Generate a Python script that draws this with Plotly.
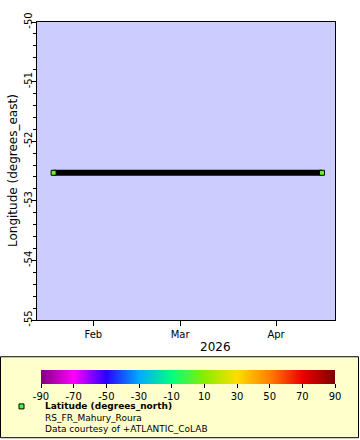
import plotly.graph_objects as go

# ---- data ----
times = ["2026-01-19 04:00", "2026-04-15 20:00"]
longitude = [-52.53, -52.53]
latitude = [4.85, 4.85]
x_range = ["2026-01-13 19:00", "2026-04-20 01:00"]
y_range = [-55, -50]
y_ticks = [-55, -54, -53, -52, -51, -50]
cbar_ticks = [-90, -70, -50, -30, -10, 10, 30, 50, 70, 90]
station = "RS_FR_Mahury_Roura"
courtesy = "Data courtesy of +ATLANTIC_CoLAB"
var_label = "Latitude (degrees_north)"

colorscale = [
    [0.0, "#7f007f"],
    [0.111, "#ff00ff"],
    [0.222, "#2a00ff"],
    [0.333, "#00aaff"],
    [0.444, "#00ff80"],
    [0.556, "#88ee00"],
    [0.667, "#ffdd00"],
    [0.778, "#ff7f00"],
    [0.889, "#ee0000"],
    [1.0, "#7f0000"],
]

W, H = 360, 440
L, R, T, B = 37, 25, 20, 120
pw, ph = W - L - R, H - T - B

def px(xp):
    return (xp - L) / pw

def py(yp):
    return (H - B - yp) / ph

FONT = "DejaVu Sans"

fig = go.Figure()
fig.add_trace(go.Scatter(
    x=times, y=longitude, mode="lines+markers",
    line=dict(color="black", width=6),
    marker=dict(symbol="square", size=5, color=latitude, cmin=-90, cmax=90,
                colorscale=colorscale, line=dict(color="black", width=1),
                colorbar=dict(orientation="h", xref="paper", yref="paper",
                              x=px(41), xanchor="left", len=(335 - 41) / pw, lenmode="fraction",
                              y=py(370), yanchor="top", thickness=14, thicknessmode="pixels",
                              xpad=0, ypad=0, outlinewidth=0,
                              tickmode="array", tickvals=cbar_ticks,
                              ticktext=[str(v) for v in cbar_ticks],
                              ticks="outside", ticklen=4, tickcolor="black",
                              tickfont=dict(size=10, color="black", family=FONT))),
    showlegend=False,
))

shapes = [
    dict(type="rect", xref="paper", yref="paper", x0=px(0.5), x1=px(358.5), y0=py(357), y1=py(438.5),
         fillcolor="#ffffcc", line=dict(color="black", width=1), layer="below"),
    dict(type="rect", xref="paper", yref="paper", x0=px(19), x1=px(24), y0=py(404.5), y1=py(409.5),
         fillcolor="#44ff33", line=dict(color="black", width=1)),
]

legend_text = "<b>" + var_label + "</b><br>" + station + "<br>" + courtesy

annotations = [
    dict(text=legend_text, x=px(43), y=py(418.5), xref="paper", yref="paper", xanchor="left", yanchor="middle",
         align="left", showarrow=False, font=dict(size=9, color="black", family=FONT)),
    dict(text="2026", x=px(215), y=py(347), xref="paper", yref="paper", xanchor="center", yanchor="middle",
         showarrow=False, font=dict(size=12, color="black", family=FONT)),
    dict(text="Longitude (degrees_east)", x=px(13), y=py(170), xref="paper", yref="paper",
         xanchor="center", yanchor="middle", textangle=-90,
         showarrow=False, font=dict(size=12, color="black", family=FONT)),
]

fig.update_layout(
    width=W, height=H,
    margin=dict(l=L, r=R, t=T, b=B),
    paper_bgcolor="white", plot_bgcolor="#ccccff",
    font=dict(family=FONT, size=10, color="black"),
    shapes=shapes, annotations=annotations,
    xaxis=dict(type="date", range=x_range, dtick="M1", tickformat="%b",
               ticks="outside", ticklen=5, tickcolor="black", showgrid=False, zeroline=False,
               showline=True, linecolor="black", linewidth=1, mirror=True,
               tickfont=dict(size=10)),
    yaxis=dict(range=y_range, tickmode="array", tickvals=y_ticks,
               ticktext=[str(v) for v in y_ticks], tickangle=-90,
               ticks="outside", ticklen=5, tickcolor="black", showgrid=False, zeroline=False,
               showline=True, linecolor="black", linewidth=1, mirror=True,
               tickfont=dict(size=10), ticklabelstandoff=-5,
               minor=dict(dtick=0.2, ticks="outside", ticklen=3, tickcolor="black", showgrid=False)),
)

fig.write_html("out.html", config={"displayModeBar": False},
               post_script="document.body.style.margin='0';document.body.style.padding='0';")
